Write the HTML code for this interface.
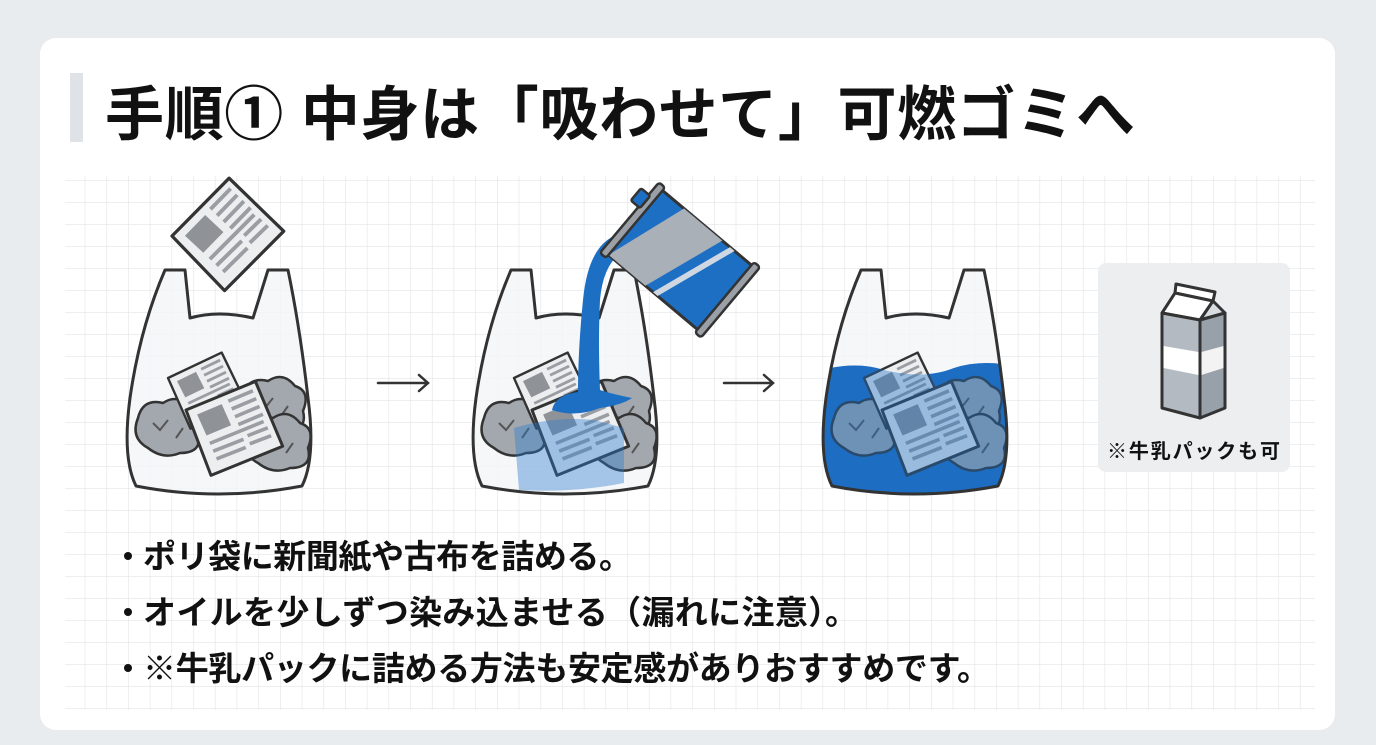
<!DOCTYPE html>
<html><head><meta charset="utf-8"><style>
html,body{margin:0;padding:0;background:#e9ecef;}
svg{display:block}
text{font-family:"Liberation Sans","Noto Sans CJK JP",sans-serif;font-weight:bold;fill:#111}
</style></head><body>
<svg width="1376" height="745" viewBox="0 0 1376 745" xmlns="http://www.w3.org/2000/svg">
<defs>
<pattern id="grid" x="63" y="180" width="21.7" height="22" patternUnits="userSpaceOnUse">
<path d="M0 0H21.7M0 0V22" fill="none" stroke="#e2e4e7" stroke-width="1.2"/>
</pattern>
<g id="paper">
<path d="M0 0 L62 -8 L70 50 L6 58 Z" fill="#eceef0" stroke="#333" stroke-width="2.5" stroke-linejoin="round"/>
<path d="M8 6 L30 3 L33 22 L11 25 Z" fill="#8f9398"/>
<path d="M36 2 L58 -1 M37 9 L59 6 M38 16 L60 13 M39 23 L61 20 M12 32 L60 26 M13 39 L40 36 M44 34 L62 32 M14 46 L40 43 M44 41 L63 39" stroke="#9a9ea3" stroke-width="3"/>
</g>
<g id="blob">
<path d="M0 20 Q5 0 25 5 Q40 -5 52 10 Q68 15 60 35 Q65 55 42 55 Q25 62 10 50 Q-8 40 0 20 Z" fill="#a3a8ae" stroke="#333" stroke-width="2.5" stroke-linejoin="round"/>
<path d="M15 25 L22 32 L30 22 M38 40 L45 30" stroke="#555" stroke-width="2" fill="none"/>
</g>
<path id="bagp" d="M37 2 L57 2 L62 50 Q90 42 125 50 L140 2 L160 2 Q172 60 180 130 Q188 190 174 218 Q90 234 8 218 Q-6 190 2 130 Q12 60 37 2 Z"/>
<g id="contents">
<use href="#blob" x="10" y="130"/>
<use href="#blob" x="115" y="108"/>
<use href="#blob" x="120" y="145"/>
<use href="#paper" transform="translate(40 110) rotate(-18) scale(0.95)"/>
<use href="#paper" transform="translate(58 142) rotate(-15) scale(1.2)"/>
</g>
<clipPath id="c1"><use href="#bagp"/></clipPath>
</defs>

<rect x="40" y="38" width="1295" height="692" rx="16" fill="#fff"/>
<rect x="65" y="176" width="1250" height="534" fill="url(#grid)"/>

<rect x="70" y="73" width="13" height="69" fill="#dfe2e6"/>
<text x="105" y="135" font-size="59" textLength="1030" lengthAdjust="spacing">手順① 中身は「吸わせて」可燃ゴミへ</text>

<!-- Bag 1 -->
<g transform="translate(128 268)">
<use href="#bagp" fill="#f3f5f7" fill-opacity="0.8"/>
<use href="#contents"/>
<use href="#bagp" fill="none" stroke="#333" stroke-width="3" stroke-linejoin="round"/>
</g>
<use href="#paper" transform="translate(172 236) rotate(-38) scale(1.3)"/>

<!-- arrows -->
<g stroke="#333" stroke-width="2.5" fill="none" stroke-linecap="round">
<path d="M378 383 H428 M419 375 L428 383 L419 391"/>
<path d="M724 383 H773 M764 375 L773 383 L764 391"/>
</g>

<!-- Bag 2 -->
<g transform="translate(474 268)">
<use href="#bagp" fill="#f3f5f7" fill-opacity="0.8"/>
<use href="#contents"/>
<path d="M40 160 Q80 148 120 152 L150 160 L150 215 Q100 225 45 222 Z" fill="#2a7bd0" fill-opacity="0.4" clip-path="url(#c1)"/>
<use href="#bagp" fill="none" stroke="#333" stroke-width="3" stroke-linejoin="round"/>
</g>
<!-- stream -->
<path d="M614 236 Q588 248 583 300 Q578 350 578 392 Q555 395 552 410 Q575 418 600 408 Q622 405 632 398 Q612 394 600 390 Q598 340 600 300 Q603 265 622 252 Z" fill="#1d6fc4"/>
<!-- can -->
<g transform="translate(680 260) rotate(40)">
<rect x="-60" y="-42" width="120" height="84" fill="#1d6fc4" stroke="#333" stroke-width="3"/>
<path d="M-30 -42 L20 -42 L-10 42 L-58 42 Z" fill="#a9b0b8"/>
<path d="M30 -42 L36 -42 L6 42 L0 42 Z" fill="#cfd8e2"/>
<rect x="-66" y="-46" width="8" height="92" rx="3" fill="#9aa0a6" stroke="#333" stroke-width="2.5"/>
<rect x="58" y="-46" width="8" height="92" rx="3" fill="#9aa0a6" stroke="#333" stroke-width="2.5"/>
<rect x="-76" y="-30" width="12" height="16" rx="2" fill="#1d6fc4" stroke="#333" stroke-width="2.5"/>
</g>

<!-- Bag 3 -->
<g transform="translate(824 268)">
<use href="#bagp" fill="#f3f5f7" fill-opacity="0.8"/>
<g clip-path="url(#c1)"><path d="M-10 104 Q30 92 60 102 Q100 112 130 100 Q160 90 200 100 V240 H-10 Z" fill="#1d6fc4"/></g>
<use href="#contents"/>
<g clip-path="url(#c1)"><path d="M-10 104 Q30 92 60 102 Q100 112 130 100 Q160 90 200 100 V240 H-10 Z" fill="#1d6fc4" fill-opacity="0.4"/></g>
<use href="#bagp" fill="none" stroke="#333" stroke-width="3" stroke-linejoin="round"/>
</g>

<!-- milk panel -->
<rect x="1098" y="263" width="192" height="209" rx="8" fill="#eceef0"/>
<g stroke="#333" stroke-width="3" stroke-linejoin="round">
<path d="M1176 284 L1215 292 L1213 301 L1175 293 Z" fill="#fff"/>
<path d="M1175 293 L1162 313 L1200 320 L1213 301 Z" fill="#fff"/>
<path d="M1213 301 L1225 313 L1200 320 Z" fill="#d8dde2"/>
<path d="M1162 313 L1200 320 L1200 418 L1162 408 Z" fill="#b3bac2"/>
<path d="M1200 320 L1225 313 L1225 408 L1200 418 Z" fill="#98a1aa"/>
</g>
<path d="M1163.5 346 L1198.5 352 L1198.5 375 L1163.5 368 Z" fill="#fff"/>
<path d="M1201.5 352 L1223.5 346 L1223.5 368 L1201.5 375 Z" fill="#f3f3f3"/>
<text x="1107" y="458" font-size="20" textLength="173" lengthAdjust="spacing">※牛乳パックも可</text>

<!-- bullets -->
<circle cx="128" cy="556" r="4" fill="#111"/>
<circle cx="128" cy="612" r="4" fill="#111"/>
<circle cx="128" cy="668" r="4" fill="#111"/>
<text x="143" y="568" font-size="33" textLength="489" lengthAdjust="spacing">ポリ袋に新聞紙や古布を詰める。</text>
<text x="143" y="624" font-size="33" textLength="715" lengthAdjust="spacing">オイルを少しずつ染み込ませる（漏れに注意）。</text>
<text x="143" y="680" font-size="33" textLength="847" lengthAdjust="spacing">※牛乳パックに詰める方法も安定感がありおすすめです。</text>
</svg>
</body></html>
